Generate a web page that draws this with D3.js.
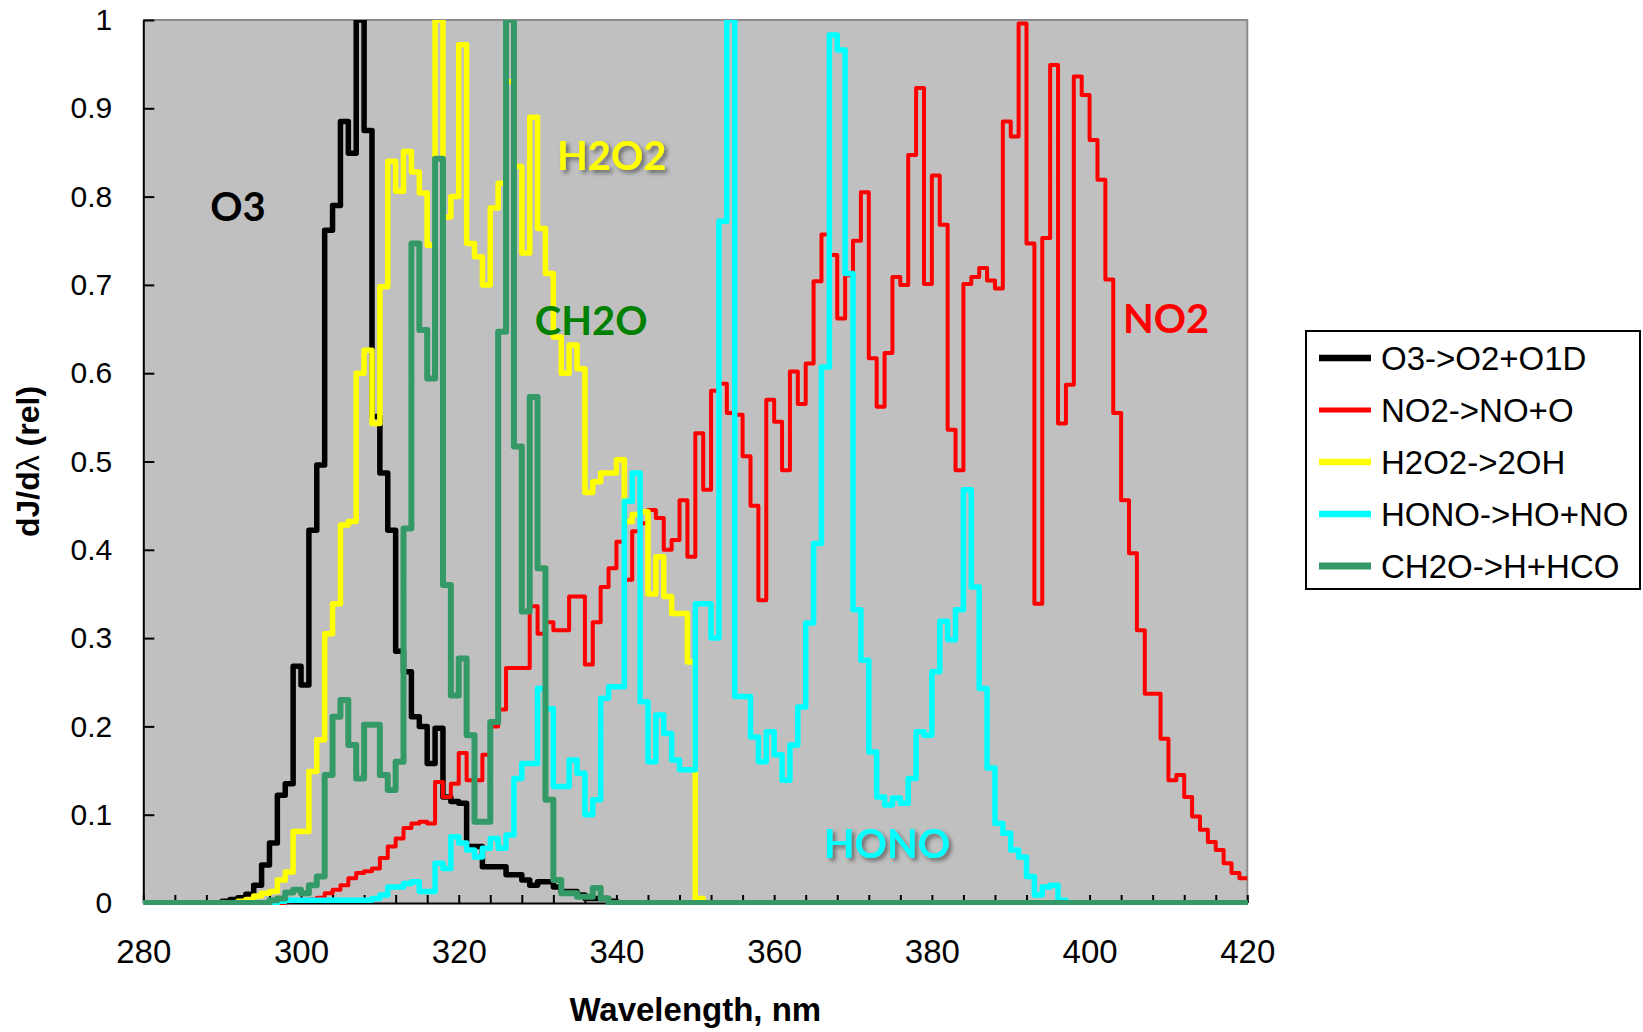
<!DOCTYPE html>
<html>
<head>
<meta charset="utf-8">
<script src="https://cdn.jsdelivr.net/npm/d3@7/dist/d3.min.js"></script>
<style>
  body { margin: 0; background: #ffffff; }
  svg { display: block; }
</style>
</head>
<body>
<div id="chart"></div>
<script>
// Spectra are binned on a 1 nm grid: value i covers [start + i, start + i + 1)
const xMin = 280;
const xMax = 420;
const xLabelTicks = [280, 300, 320, 340, 360, 380, 400, 420];
const yTicks = [0, 0.1, 0.2, 0.3, 0.4, 0.5, 0.6, 0.7, 0.8, 0.9, 1];

const o3Start = 290;
const o3Values = [
    0.002, 0.004, 0.006, 0.010, 0.020, 0.043, 0.068, 0.122, 0.135, 0.268,   // 290-299
    0.247, 0.422, 0.496, 0.762, 0.790, 0.885, 0.849, 1.000, 0.875, 0.551,   // 300-309
    0.487, 0.422, 0.285, 0.262, 0.211, 0.200, 0.158, 0.198, 0.120, 0.115,   // 310-319
    0.113, 0.064, 0.064, 0.041, 0.041, 0.041, 0.032, 0.032, 0.026, 0.020,   // 320-329
    0.024, 0.024, 0.018, 0.013, 0.013, 0.009, 0.005, 0.005, 0.005, 0.002    // 330-339
];

const no2Start = 298;
const no2Values = [
    0.002, 0.003,                                                           // 298-299
    0.003, 0.004, 0.006, 0.011, 0.015, 0.020, 0.028, 0.034, 0.036, 0.039,   // 300-309
    0.051, 0.064, 0.073, 0.085, 0.090, 0.092, 0.090, 0.137, 0.120, 0.135,   // 310-319
    0.170, 0.139, 0.139, 0.168, 0.200, 0.219, 0.266, 0.266, 0.266, 0.336,   // 320-329
    0.305, 0.318, 0.309, 0.309, 0.347, 0.347, 0.270, 0.318, 0.358, 0.379,   // 330-339
    0.409, 0.366, 0.421, 0.430, 0.445, 0.436, 0.400, 0.411, 0.456, 0.392,   // 340-349
    0.532, 0.468, 0.580, 0.588, 0.555, 0.553, 0.506, 0.450, 0.343, 0.570,   // 350-359
    0.545, 0.490, 0.602, 0.565, 0.611, 0.704, 0.757, 0.734, 0.662, 0.711,   // 360-369
    0.750, 0.805, 0.617, 0.562, 0.623, 0.709, 0.700, 0.847, 0.923, 0.701,   // 370-379
    0.824, 0.768, 0.536, 0.490, 0.701, 0.709, 0.719, 0.705, 0.696, 0.885,   // 380-389
    0.868, 0.996, 0.747, 0.339, 0.753, 0.949, 0.543, 0.587, 0.936, 0.915,   // 390-399
    0.864, 0.819, 0.706, 0.555, 0.456, 0.396, 0.309, 0.237, 0.237, 0.186,   // 400-409
    0.139, 0.145, 0.120, 0.098, 0.083, 0.069, 0.060, 0.045, 0.034, 0.028    // 410-419
];

const h2o2Start = 292;
const h2o2Values = [
    0.002, 0.004, 0.008, 0.011, 0.013, 0.026, 0.035, 0.081,                 // 292-299
    0.081, 0.149, 0.185, 0.305, 0.339, 0.428, 0.432, 0.600, 0.626, 0.543,   // 300-309
    0.698, 0.840, 0.806, 0.851, 0.828, 0.804, 0.745, 1.000, 0.777, 0.800,   // 310-319
    0.972, 0.747, 0.732, 0.700, 0.787, 0.815, 0.930, 0.834, 0.736, 0.890,   // 320-329
    0.764, 0.713, 0.641, 0.600, 0.632, 0.605, 0.465, 0.477, 0.487, 0.487,   // 330-339
    0.502, 0.432, 0.440, 0.443, 0.350, 0.392, 0.347, 0.328, 0.328, 0.273,   // 340-349
    0.005                                                                   // 350
];

const honoStart = 297;
const honoValues = [
    0.002, 0.003, 0.003,                                                    // 297-299
    0.003, 0.003, 0.003, 0.003, 0.003, 0.003, 0.003, 0.003, 0.003, 0.005,   // 300-309
    0.009, 0.018, 0.018, 0.022, 0.024, 0.013, 0.013, 0.045, 0.039, 0.075,   // 310-319
    0.068, 0.060, 0.052, 0.062, 0.073, 0.062, 0.077, 0.141, 0.158, 0.158,   // 320-329
    0.243, 0.220, 0.132, 0.132, 0.162, 0.147, 0.100, 0.117, 0.232, 0.245,   // 330-339
    0.245, 0.455, 0.487, 0.228, 0.160, 0.213, 0.192, 0.162, 0.151, 0.151,   // 340-349
    0.339, 0.339, 0.300, 0.772, 1.000, 0.234, 0.234, 0.188, 0.160, 0.194,   // 350-359
    0.168, 0.139, 0.179, 0.222, 0.317, 0.407, 0.607, 0.983, 0.966, 0.713,   // 360-369
    0.332, 0.275, 0.171, 0.120, 0.111, 0.119, 0.113, 0.141, 0.194, 0.190,   // 370-379
    0.262, 0.319, 0.298, 0.332, 0.468, 0.358, 0.243, 0.153, 0.090, 0.079,   // 380-389
    0.060, 0.052, 0.030, 0.009, 0.018, 0.020, 0.003                         // 390-396
];

const ch2oStart = 296;
const ch2oValues = [
    0.003, 0.005, 0.012, 0.015,                                             // 296-299
    0.011, 0.020, 0.030, 0.145, 0.211, 0.230, 0.179, 0.141, 0.202, 0.202,   // 300-309
    0.145, 0.128, 0.160, 0.424, 0.747, 0.649, 0.594, 0.843, 0.360, 0.235,   // 310-319
    0.277, 0.190, 0.092, 0.092, 0.205, 0.647, 1.000, 0.517, 0.330, 0.573,   // 320-329
    0.379, 0.117, 0.026, 0.011, 0.011, 0.007, 0.007, 0.017, 0.005           // 330-338
];

// Series in legend order; later series are drawn on top
const series = [
    { name: 'O3->O2+O1D',   start: o3Start,   values: o3Values,   color: '#000000', width: 5.5 },
    { name: 'NO2->NO+O',    start: no2Start,  values: no2Values,  color: '#ff0000', width: 4 },
    { name: 'H2O2->2OH',    start: h2o2Start, values: h2o2Values, color: '#ffff00', width: 5.5 },
    { name: 'HONO->HO+NO',  start: honoStart, values: honoValues, color: '#00ffff', width: 5.5 },
    { name: 'CH2O->H+HCO',  start: ch2oStart, values: ch2oValues, color: '#339966', width: 6 }
];

// In-plot labels: text, colour, centre x (nm), baseline y (value), shadow
const plotLabels = [
    { text: 'O3',   color: '#000000', nm: 292.0, v: 0.772, shadow: false },
    { text: 'H2O2', color: '#ffff00', nm: 339.4, v: 0.830, shadow: true },
    { text: 'CH2O', color: '#008000', nm: 336.8, v: 0.643, shadow: false },
    { text: 'HONO', color: '#00ffff', nm: 374.3, v: 0.051, shadow: true },
    { text: 'NO2',  color: '#ff0000', nm: 409.7, v: 0.645, shadow: false }
];

const W = 1643, H = 1032;
const margin = { top: 20, left: 143.3 };
const plotW = 1104, plotH = 883;

const svg = d3.select('#chart').append('svg')
    .attr('width', W)
    .attr('height', H)
    .style('background', '#ffffff');

const defs = svg.append('defs');
defs.append('clipPath').attr('id', 'plot-clip')
    .append('rect')
    .attr('x', 0).attr('y', 0)
    .attr('width', plotW + 2).attr('height', plotH + 2);

const shadow = defs.append('filter').attr('id', 'label-shadow')
    .attr('x', '-20%').attr('y', '-30%').attr('width', '150%').attr('height', '170%');
shadow.append('feDropShadow')
    .attr('dx', 3).attr('dy', 3)
    .attr('stdDeviation', 2.2)
    .attr('flood-color', '#000000')
    .attr('flood-opacity', 0.45);

const g = svg.append('g')
    .attr('transform', `translate(${margin.left},${margin.top})`);

const x = d3.scaleLinear().domain([xMin, xMax]).range([0, plotW]);
const y = d3.scaleLinear().domain([0, 1]).range([plotH, 0]);

// Plot area
g.append('rect')
    .attr('width', plotW)
    .attr('height', plotH)
    .attr('fill', '#c0c0c0');

// Grey frame on top and right
g.append('path')
    .attr('d', `M0,0H${plotW}V${plotH}`)
    .attr('fill', 'none')
    .attr('stroke', '#8c8c8c')
    .attr('stroke-width', 2);

const fontAxis = '"Liberation Sans", Arial, Helvetica, sans-serif';

// X axis: ticks every 4 nm pointing inwards, labels every 20 nm
const xAxis = d3.axisBottom(x)
    .tickValues(d3.range(xMin, xMax + 1, 4))
    .tickSizeInner(-8)
    .tickSizeOuter(0)
    .tickPadding(37)
    .tickFormat(d => xLabelTicks.includes(d) ? d : '');

const xAxisG = g.append('g')
    .attr('transform', `translate(0,${plotH})`)
    .call(xAxis);
xAxisG.attr('font-family', fontAxis).attr('font-size', 33);
xAxisG.selectAll('text').attr('fill', '#000');
xAxisG.selectAll('line').attr('stroke', '#000').attr('stroke-width', 2);
xAxisG.select('.domain').attr('stroke', '#000').attr('stroke-width', 2);

// Y axis
const yAxis = d3.axisLeft(y)
    .tickValues(yTicks)
    .tickSizeInner(-11)
    .tickSizeOuter(0)
    .tickPadding(31)
    .tickFormat(d3.format('~g'));

const yAxisG = g.append('g').call(yAxis);
yAxisG.attr('font-family', fontAxis).attr('font-size', 30);
yAxisG.selectAll('text').attr('fill', '#000');
yAxisG.selectAll('line').attr('stroke', '#000').attr('stroke-width', 2);
yAxisG.select('.domain').attr('stroke', '#000').attr('stroke-width', 2);

// Step curves
function toSteps(s) {
    const pts = [];
    for (let w = xMin; w < xMax; w++) {
        const i = w - s.start;
        const v = (i >= 0 && i < s.values.length) ? s.values[i] : 0;
        pts.push({ x: w, y: v });
    }
    pts.push({ x: xMax, y: pts[pts.length - 1].y });
    return pts;
}

const line = d3.line()
    .x(d => x(d.x))
    .y(d => y(d.y))
    .curve(d3.curveStepAfter);

const linesG = g.append('g').attr('clip-path', 'url(#plot-clip)');
linesG.selectAll('.series')
    .data(series)
    .enter()
    .append('path')
    .attr('class', 'series')
    .attr('d', d => line(toSteps(d)))
    .attr('fill', 'none')
    .attr('stroke', d => d.color)
    .attr('stroke-width', d => d.width)
    .attr('stroke-linejoin', 'round');

// Labels inside the plot
g.selectAll('.plot-label')
    .data(plotLabels)
    .enter()
    .append('text')
    .attr('class', 'plot-label')
    .attr('x', d => x(d.nm))
    .attr('y', d => y(d.v))
    .attr('text-anchor', 'middle')
    .attr('font-family', 'Lato, "Open Sans", sans-serif')
    .attr('font-weight', 'bold')
    .attr('font-size', 40)
    .attr('fill', d => d.color)
    .attr('filter', d => d.shadow ? 'url(#label-shadow)' : null)
    .text(d => d.text);

// Axis titles
svg.append('text')
    .attr('x', margin.left + plotW / 2)
    .attr('y', 1021)
    .attr('text-anchor', 'middle')
    .attr('font-family', fontAxis)
    .attr('font-weight', 'bold')
    .attr('font-size', 33)
    .text('Wavelength, nm');

const yTitle = svg.append('text')
    .attr('transform', `translate(39,${margin.top + plotH / 2}) rotate(-90)`)
    .attr('text-anchor', 'middle')
    .attr('font-family', fontAxis)
    .attr('font-weight', 'bold')
    .attr('font-size', 32);
yTitle.append('tspan').text('dJ/d');
yTitle.append('tspan').attr('font-weight', 'normal').text('λ');
yTitle.append('tspan').text(' (rel)');

// Legend
const legend = svg.append('g').attr('transform', 'translate(1306,331)');
legend.append('rect')
    .attr('width', 334)
    .attr('height', 258)
    .attr('fill', '#ffffff')
    .attr('stroke', '#000000')
    .attr('stroke-width', 2);

const items = legend.selectAll('.legend-item')
    .data(series)
    .enter()
    .append('g')
    .attr('class', 'legend-item')
    .attr('transform', (d, i) => `translate(0,${27 + i * 52})`);

items.append('line')
    .attr('x1', 13).attr('x2', 65)
    .attr('stroke', d => d.color)
    .attr('stroke-width', d => d.width + 1);

items.append('text')
    .attr('x', 75)
    .attr('y', 12)
    .attr('font-family', fontAxis)
    .attr('font-size', 33)
    .attr('fill', '#000')
    .text(d => d.name);
</script>
</body>
</html>
